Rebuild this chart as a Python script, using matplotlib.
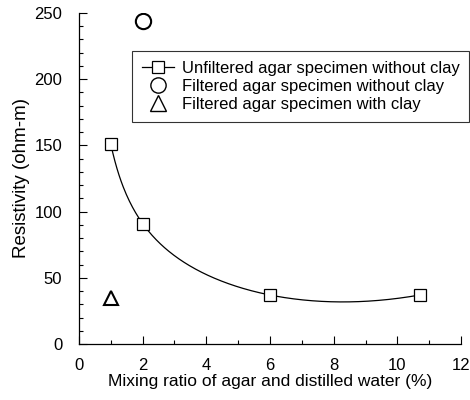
import numpy as np
import matplotlib
matplotlib.use("Agg")
import matplotlib.pyplot as plt
from matplotlib.ticker import MultipleLocator
from matplotlib.lines import Line2D

plt.rcParams['font.family'] = ['Liberation Sans', 'DejaVu Sans']

unf_x = [1, 2, 6, 10.7]
unf_y = [151, 91, 37, 37]
filt_x = [2]
filt_y = [244]
clay_x = [1]
clay_y = [35]

# smooth curve through the unfiltered points: y = a/x + b + c*x + d*x^2
xa = np.asarray(unf_x, float)
M = np.column_stack([1 / xa, np.ones_like(xa), xa, xa ** 2])
coef = np.linalg.solve(M, np.asarray(unf_y, float))
xs = np.linspace(xa.min(), xa.max(), 300)
ys = np.column_stack([1 / xs, np.ones_like(xs), xs, xs ** 2]) @ coef

fig = plt.figure(figsize=(4.7, 4.0), dpi=100)
ax = fig.add_axes([0.168, 0.14, 0.813, 0.8275])

ax.plot(xs, ys, color='black', lw=0.9, zorder=2)
ax.plot(unf_x, unf_y, ls='none', marker='s', mfc='white', mec='black', ms=9, mew=0.9, zorder=3)
ax.plot(filt_x, filt_y, ls='none', marker='o', mfc='white', mec='black', ms=11, mew=1.5, zorder=3)
ax.plot(clay_x, clay_y, ls='none', marker='^', mfc='white', mec='black', ms=10, mew=1.5, zorder=3)

handles = [
    Line2D([], [], color='black', lw=0.9, marker='s', mfc='white', mec='black', ms=9, mew=0.9),
    Line2D([], [], ls='none', marker='o', mfc='white', mec='black', ms=11, mew=1.0),
    Line2D([], [], ls='none', marker='^', mfc='white', mec='black', ms=11, mew=1.0),
]
labels = ['Unfiltered agar specimen without clay',
          'Filtered agar specimen without clay',
          'Filtered agar specimen with clay']
leg = ax.legend(handles, labels, loc='upper left', bbox_to_anchor=(0.14, 0.885),
                frameon=True, fancybox=False, edgecolor='black', fontsize=12,
                handlelength=1.9, handletextpad=0.45, borderpad=0.6, labelspacing=0.18,
                borderaxespad=0)
leg.get_frame().set_linewidth(0.8)

ax.set_xlim(0, 12)
ax.set_ylim(0, 250)
ax.xaxis.set_major_locator(MultipleLocator(2))
ax.xaxis.set_minor_locator(MultipleLocator(1))
ax.yaxis.set_major_locator(MultipleLocator(50))
ax.yaxis.set_minor_locator(MultipleLocator(10))
ax.tick_params(which='both', direction='in', top=False, right=False, labelsize=12, width=0.8)
ax.tick_params(axis='x', which='major', length=6, pad=10)
ax.tick_params(axis='y', which='major', length=6, pad=12)
ax.tick_params(which='minor', length=3)
for s in ['top', 'right']:
    ax.spines[s].set_visible(False)
for s in ['left', 'bottom']:
    ax.spines[s].set_linewidth(0.9)

ax.set_xlabel('Mixing ratio of agar and distilled water (%)', fontsize=12.5, labelpad=1)
ax.set_ylabel('Resistivity (ohm-m)', fontsize=13.5, labelpad=3)

fig.savefig('out.png', dpi=100)
